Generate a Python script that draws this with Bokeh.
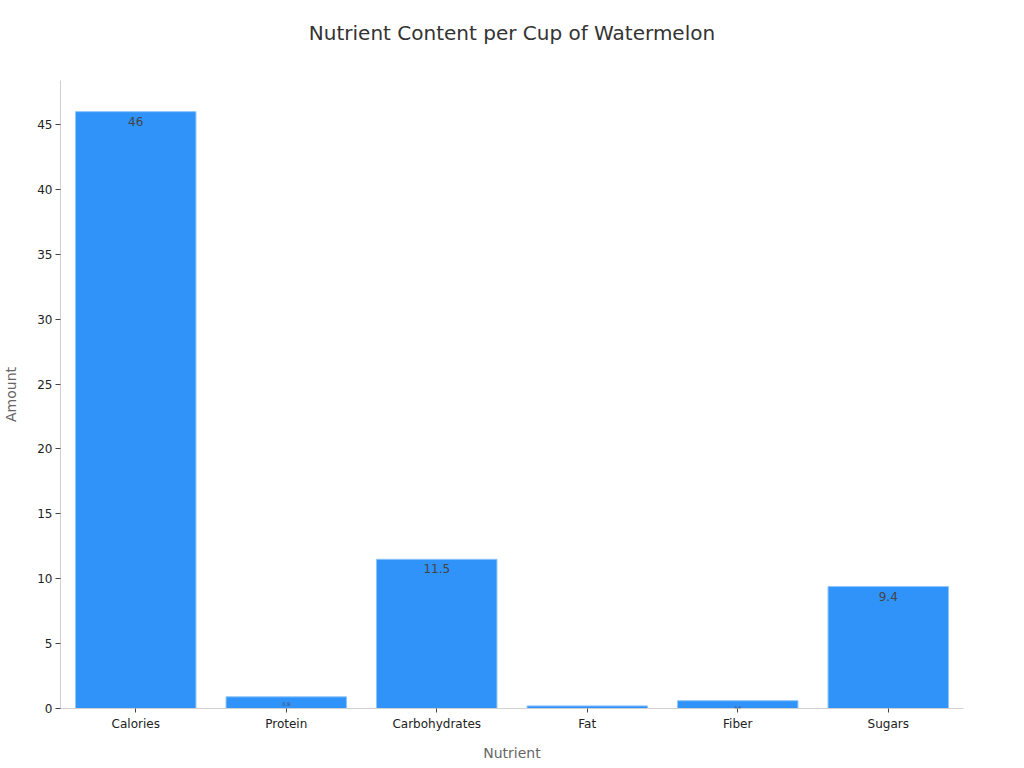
from bokeh.plotting import figure
from bokeh.models import ColumnDataSource, Range1d, FactorRange, LabelSet, SingleIntervalTicker, Title
from bokeh.core.properties import value
from bokeh.embed import file_html
from bokeh.resources import INLINE

title_text = "Nutrient Content per Cup of Watermelon"
nutrients = ["Calories", "Protein", "Carbohydrates", "Fat", "Fiber", "Sugars"]
amounts = [46, 0.9, 11.5, 0.2, 0.6, 9.4]
labels = ["46", "0.9", "11.5", "0.2", "0.6", "9.4"]
label_sizes = ["12px", "5px", "12px", "3px", "4px", "12px"]

FONT = "DejaVu Sans"

src = ColumnDataSource(dict(x=nutrients, y=amounts, t=labels, fs=label_sizes))

p = figure(width=1010, height=763, x_range=FactorRange(*nutrients, range_padding=0.0),
           y_range=Range1d(0, 48.4), output_backend="svg", toolbar_location=None,
           min_border_left=60, min_border_right=47, min_border_top=80, min_border_bottom=53)
p.x_range.range_padding = 0
p.title.text = title_text
p.title.align = "center"
p.title.vertical_align = "top"
p.title.text_font = FONT
p.title.text_font_size = "20px"
p.title.text_font_style = "normal"
p.title.text_color = "#333333"
p.title.offset = 0
p.title.standoff = 10

# blank spacer panel between the plot frame and the title, to lift the title
spacer = Title(text=" ", text_font_size="1px", standoff=26)
p.add_layout(spacer, "above")

p.vbar(x="x", top="y", width=0.8, source=src, fill_color="#2F93FA",
       line_color="#8CC4FB", line_width=1)

lbl = LabelSet(x="x", y="y", text="t", source=src, text_align="center",
               text_baseline="top", y_offset=-5, text_font_size="fs",
               text_color="#444444", text_font=value(FONT))
p.add_layout(lbl)

p.outline_line_color = None
p.grid.grid_line_color = None
p.background_fill_color = "white"

p.yaxis.ticker = SingleIntervalTicker(interval=5)
p.yaxis.axis_label = "Amount"
p.xaxis.axis_label = "Nutrient"
for ax in (p.xaxis, p.yaxis):
    ax.axis_line_color = "#d0d0d0"
    ax.major_tick_line_color = "#444444"
    ax.minor_tick_line_color = None
    ax.major_tick_in = 0
    ax.major_tick_out = 5
    ax.major_label_text_font = FONT
    ax.major_label_text_font_size = "12px"
    ax.major_label_text_color = "#222222"
    ax.axis_label_text_font = FONT
    ax.axis_label_text_font_size = "14px"
    ax.axis_label_text_font_style = "normal"
    ax.axis_label_text_color = "#666666"
p.xaxis.major_tick_out = 4
p.xaxis.major_label_standoff = 4
p.xaxis.axis_label_standoff = 11
p.yaxis.major_label_standoff = 3
p.yaxis.axis_label_standoff = 15

open("out.html", "w").write(file_html(p, INLINE))
